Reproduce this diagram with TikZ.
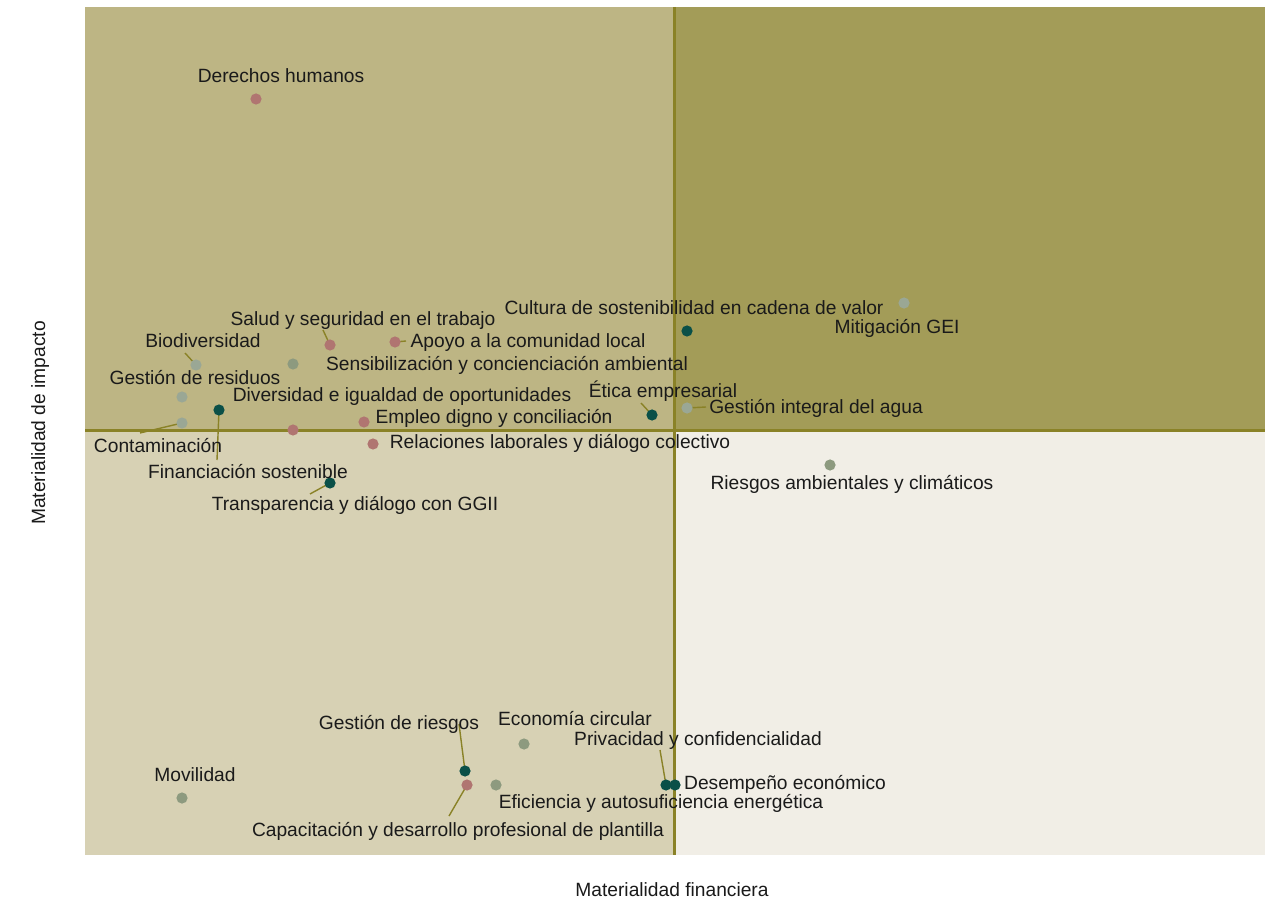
\documentclass[tikz,border=0pt]{standalone}
\usepackage{fontspec}
\setmainfont{Liberation Sans}
\usetikzlibrary{backgrounds}
\definecolor{qtl}{HTML}{BDB584}
\definecolor{qtr}{HTML}{A39C58}
\definecolor{qbl}{HTML}{D7D1B4}
\definecolor{qbr}{HTML}{F1EEE6}
\definecolor{axisc}{HTML}{8A8227}
\definecolor{cpink}{HTML}{B07571}
\definecolor{cteal}{HTML}{0A5048}
\definecolor{csage}{HTML}{8D9A7F}
\definecolor{cgray}{HTML}{9AA795}
\definecolor{txt}{HTML}{1A1A1A}
\begin{document}
\begin{tikzpicture}[x=0.5pt,y=-0.5pt,
  dot/.style={circle,inner sep=0pt,minimum size=5.6pt,fill=#1},
  lbl/.style={inner sep=0pt,text=txt,font=\fontsize{9.6}{11}\selectfont,text height=7pt,text depth=0pt},
  leader/.style={draw=axisc,line width=0.7pt},
  divider/.style={draw=axisc,line width=1.5pt}]
\useasboundingbox (0,0) rectangle (1268,903);
% dots
\node[dot=cpink] (dDer) at (256,99) {};
\node[dot=cpink] (dSalud) at (330,345) {};
\node[dot=cpink] (dApoyo) at (395,342) {};
\node[dot=cgray] (dBio) at (196,365) {};
\node[dot=csage] (dSens) at (293,364) {};
\node[dot=cgray] (dRes) at (182,397) {};
\node[dot=cpink] (dDiv) at (293,430) {};
\node[dot=cpink] (dEmp) at (364,422) {};
\node[dot=cpink] (dRel) at (373,444) {};
\node[dot=cteal] (dFin) at (219,410) {};
\node[dot=cgray] (dCont) at (182,423) {};
\node[dot=cteal] (dTrans) at (330,483) {};
\node[dot=cteal] (dCult) at (687,331) {};
\node[dot=cgray] (dMit) at (904,303) {};
\node[dot=cteal] (dEtica) at (652,415) {};
\node[dot=cgray] (dAgua) at (687,408) {};
\node[dot=csage] (dRiesA) at (830,465) {};
\node[dot=cteal] (dGR) at (465,771) {};
\node[dot=cpink] (dCap) at (467,785) {};
\node[dot=csage] (dEfi) at (496,785) {};
\node[dot=csage] (dEco) at (524,744) {};
\node[dot=cteal] (dPriv) at (666,785) {};
\node[dot=cteal] (dDes) at (675,785) {};
\node[dot=csage] (dMov) at (182,798) {};
% leader end points
\coordinate (eSalud) at (323,330);
\coordinate (eApoyo) at (406,341);
\coordinate (eBio) at (185,353);
\coordinate (eCont) at (140,433);
\coordinate (eFin) at (217,460);
\coordinate (eTrans) at (310,494);
\coordinate (eEtica) at (641,403);
\coordinate (eAgua) at (706,407);
\coordinate (eGR) at (459,724);
\coordinate (eCap) at (449,816);
\coordinate (ePriv) at (660,750);
\coordinate (vt) at (674,7);
\coordinate (vb) at (674,855);
\coordinate (hl) at (85,430);
\coordinate (hr) at (1265,430);
\begin{pgfonlayer}{background}
\fill[white] (0,0) rectangle (1268,903);
\fill[qtl] (85,7) rectangle (674,430);
\fill[qtr] (674,7) rectangle (1265,430);
\fill[qbl] (85,430) rectangle (674,855);
\fill[qbr] (674,430) rectangle (1265,855);
\draw[divider] (vt) -- (vb);
\draw[divider] (hl) -- (hr);
\draw[leader] (dSalud.center) -- (eSalud);
\draw[leader] (dApoyo.center) -- (eApoyo);
\draw[leader] (dBio.center) -- (eBio);
\draw[leader] (dCont.center) -- (eCont);
\draw[leader] (dFin.center) -- (eFin);
\draw[leader] (dTrans.center) -- (eTrans);
\draw[leader] (dEtica.center) -- (eEtica);
\draw[leader] (dAgua.center) -- (eAgua);
\draw[leader] (dGR.center) -- (eGR);
\draw[leader] (dCap.center) -- (eCap);
\draw[leader] (dPriv.center) -- (ePriv);
\end{pgfonlayer}
% axis labels
\node[lbl] (xax) at (672,889) {Materialidad financiera};
\node[lbl,rotate=90] (yax) at (38,423) {Materialidad de impacto};
% labels
\node[lbl] (lDer) at (281,76) {Derechos humanos};
\node[lbl] (lSalud) at (363,319) {Salud y seguridad en el trabajo};
\node[lbl] (lApoyo) at (528,341) {Apoyo a la comunidad local};
\node[lbl] (lBio) at (203,341) {Biodiversidad};
\node[lbl] (lSens) at (507,364) {Sensibilización y concienciación ambiental};
\node[lbl] (lRes) at (195,378) {Gestión de residuos};
\node[lbl] (lDiv) at (402,394) {Diversidad e igualdad de oportunidades};
\node[lbl] (lEtica) at (663,390) {Ética empresarial};
\node[lbl] (lAgua) at (816,407) {Gestión integral del agua};
\node[lbl] (lEmp) at (494,416) {Empleo digno y conciliación};
\node[lbl] (lRel) at (560,441) {Relaciones laborales y diálogo colectivo};
\node[lbl] (lCont) at (158,445) {Contaminación};
\node[lbl] (lFin) at (248,471) {Financiación sostenible};
\node[lbl] (lTrans) at (355,503) {Transparencia y diálogo con GGII};
\node[lbl] (lCult) at (694,308) {Cultura de sostenibilidad en cadena de valor};
\node[lbl] (lMit) at (897,327) {Mitigación GEI};
\node[lbl] (lRiesA) at (852,482) {Riesgos ambientales y climáticos};
\node[lbl] (lGR) at (399,722) {Gestión de riesgos};
\node[lbl] (lEco) at (575,718) {Economía circular};
\node[lbl] (lPriv) at (698,738) {Privacidad y confidencialidad};
\node[lbl] (lDes) at (785,782) {Desempeño económico};
\node[lbl] (lMov) at (195,774) {Movilidad};
\node[lbl] (lEfi) at (661,801) {Eficiencia y autosuficiencia energética};
\node[lbl] (lCap) at (458,829) {Capacitación y desarrollo profesional de plantilla};
\end{tikzpicture}
\end{document}
